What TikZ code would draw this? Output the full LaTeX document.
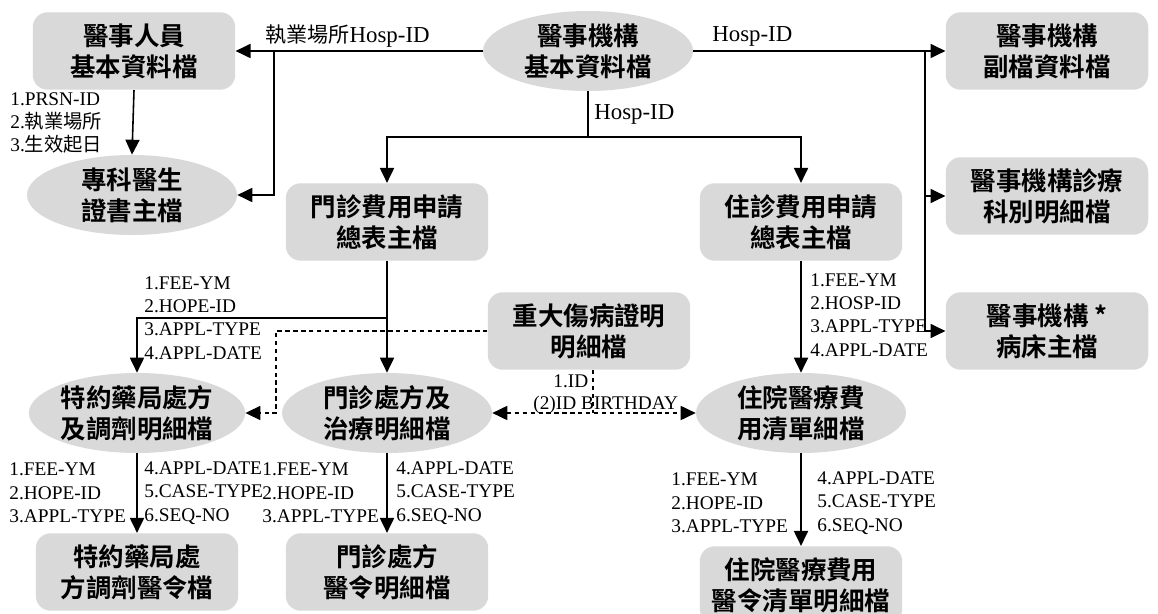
\documentclass[tikz,border=0pt]{standalone}
\usepackage{fontspec}
\setmainfont{Liberation Serif}
\newfontfamily\cjk[BoldFont={Noto Sans CJK TC Bold}]{Noto Sans CJK TC}
\usetikzlibrary{shapes.geometric,arrows.meta}

\definecolor{boxgray}{gray}{0.85}

\tikzset{
    filebox/.style={rectangle, rounded corners=0.3cm, fill=boxgray, minimum width=4.05cm, minimum height=1.55cm, align=center, font=\cjk\bfseries\fontsize{14.5}{17.5}\selectfont},
    fileoval/.style={ellipse, fill=boxgray, inner sep=0pt, minimum width=4.2cm, minimum height=1.6cm, align=center, font=\cjk\bfseries\fontsize{14.5}{17.5}\selectfont},
    link/.style={line width=0.9pt, -{Triangle[length=8.5pt,width=8pt]}},
    plain/.style={line width=0.9pt},
    dotlink/.style={line width=0.8pt, dash pattern=on 2.5pt off 2pt},
    keys/.style={font=\fontsize{11}{13.3}\selectfont, align=left, inner sep=0pt, anchor=west},
    hidkey/.style={font=\fontsize{13}{14}\selectfont, inner sep=0pt, anchor=west}
}

\begin{document}
\begin{tikzpicture}[x=0.02cm, y=-0.02cm]
    \useasboundingbox (0,0) rectangle (1158,614);
    \clip (0,0) rectangle (1158,614);

    % files
    \node [filebox] (persn) at (134,51) {醫事人員\\基本資料檔};
    \node [fileoval] (hosp) at (588,51) {醫事機構\\基本資料檔};
    \node [filebox] (hsub) at (1047,51) {醫事機構\\副檔資料檔};
    \node [fileoval] (spec) at (132,195) {專科醫生\\證書主檔};
    \node [filebox] (opd) at (387,222) {門診費用申請\\總表主檔};
    \node [filebox] (ipd) at (801,222) {住診費用申請\\總表主檔};
    \node [filebox] (hdept) at (1047,196) {醫事機構診療\\科別明細檔};
    \node [filebox] (hbed) at (1047,331) {醫事機構 *\\病床主檔};
    \node [filebox] (cert) at (589,331) {重大傷病證明\\明細檔};
    \node [fileoval] (pharm) at (137,413) {特約藥局處方\\及調劑明細檔};
    \node [fileoval] (opdrx) at (387,413) {門診處方及\\治療明細檔};
    \node [fileoval] (ipdfee) at (801,413) {住院醫療費\\用清單細檔};
    \node [filebox] (pharmo) at (137,572) {特約藥局處\\方調劑醫令檔};
    \node [filebox] (opdo) at (387,572) {門診處方\\醫令明細檔};
    \node [filebox] (ipdo) at (801,585) {住院醫療費用\\醫令清單明細檔};

    % junctions
    \coordinate (lj) at (274,51);
    \coordinate (rj) at (925,51);
    \coordinate (mj) at (588,137);
    \coordinate (oj) at (387,318);
    \coordinate (cj) at (276,413);
    \coordinate (dj) at (593,413);

    % hosp links
    \draw [link] (hosp.west) -- (persn.east);
    \draw [link] (lj) |- (spec.east);
    \draw [link] (persn.south) -- (spec.north);
    \draw [link] (hosp.east) -- (hsub.west);
    \draw [link] (rj) |- (hbed.west);
    \draw [link] (rj |- hdept.west) -- (hdept.west);
    \draw [plain] (hosp.south) -- (mj);
    \draw [link] (mj) -| (opd.north);
    \draw [link] (mj) -| (ipd.north);

    % claims
    \draw [link] (opd.south) -- (opdrx.north);
    \draw [link] (oj) -| (pharm.north);
    \draw [link] (ipd.south) -- (ipdfee.north);
    \draw [link] (pharm.south) -- (pharmo.north);
    \draw [link] (opdrx.south) -- (opdo.north);
    \draw [link] (ipdfee.south) -- (ipdo.north);

    % cert links
    \draw [dotlink, -{Triangle[length=8.5pt,width=8pt]}] (cert.west) -| (cj) -- (pharm.east);
    \draw [dotlink, {Triangle[length=8.5pt,width=8pt]}-{Triangle[length=8.5pt,width=8pt]}] (opdrx.east) -- (ipdfee.west);
    \draw [dotlink] (cert.south -| dj) -- (dj);

    % key labels
    \node [hidkey] (kh1) at (265,36) {{\cjk\fontsize{12}{14}\selectfont 執業場所}Hosp-ID};
    \node [hidkey] (kh2) at (712,36) {Hosp-ID};
    \node [hidkey] (kh3) at (594,114) {Hosp-ID};
    \node [keys] (kprsn) at (10,123) {1.PRSN-ID\\2.{\cjk 執業場所}\\3.{\cjk 生效起日}};
    \node [keys] (kopd) at (144,318) {1.FEE-YM\\2.HOPE-ID\\3.APPL-TYPE\\4.APPL-DATE};
    \node [keys] (kipd) at (810,315) {1.FEE-YM\\2.HOSP-ID\\3.APPL-TYPE\\4.APPL-DATE};
    \node [keys] (kid1) at (553,381) {1.ID};
    \node [keys] (kid2) at (533,405) {(2)ID BIRTHDAY};
    \node [keys] (kph1) at (9,493) {1.FEE-YM\\2.HOPE-ID\\3.APPL-TYPE};
    \node [keys] (kph2) at (144,493) {4.APPL-DATE\\5.CASE-TYPE\\6.SEQ-NO};
    \node [keys] (kor1) at (262,493) {1.FEE-YM\\2.HOPE-ID\\3.APPL-TYPE};
    \node [keys] (kor2) at (396,493) {4.APPL-DATE\\5.CASE-TYPE\\6.SEQ-NO};
    \node [keys] (kir1) at (671,503) {1.FEE-YM\\2.HOPE-ID\\3.APPL-TYPE};
    \node [keys] (kir2) at (817,503) {4.APPL-DATE\\5.CASE-TYPE\\6.SEQ-NO};
\end{tikzpicture}
\end{document}
